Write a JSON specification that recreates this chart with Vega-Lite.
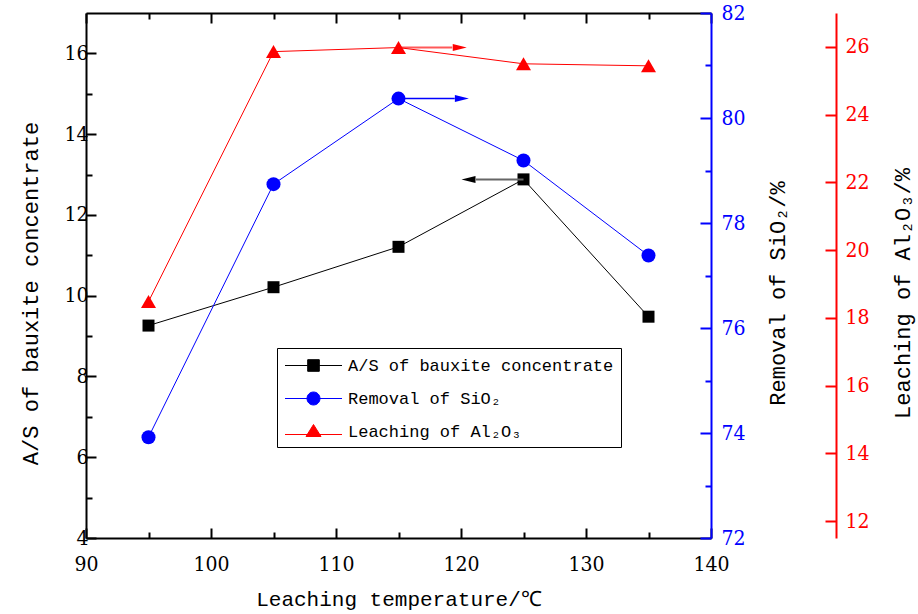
{
  "$schema": "https://vega.github.io/schema/vega-lite/v6.json",
  "width": 625,
  "height": 525,
  "autosize": {"type": "none"},
  "padding": {"left": 86, "top": 13, "right": 207, "bottom": 76},
  "background": "white",
  "datasets": {
    "as": [
      {"t": 95, "v": 9.26},
      {"t": 105, "v": 10.21},
      {"t": 115, "v": 11.21},
      {"t": 125, "v": 12.88},
      {"t": 135, "v": 9.48}
    ],
    "sio2": [
      {"t": 95, "v": 73.92},
      {"t": 105, "v": 78.74},
      {"t": 115, "v": 80.37},
      {"t": 125, "v": 79.19},
      {"t": 135, "v": 77.38}
    ],
    "al2o3": [
      {"t": 95, "v": 18.48},
      {"t": 105, "v": 25.86},
      {"t": 115, "v": 25.98},
      {"t": 125, "v": 25.5},
      {"t": 135, "v": 25.44}
    ],
    "arrows": [
      {"series": "as", "t": 125, "t2": 121.2, "th": 120.6, "v": 12.88},
      {"series": "sio2", "t": 115, "t2": 119.5, "th": 120.07, "v": 80.37},
      {"series": "al2o3", "t": 115, "t2": 119.3, "th": 119.9, "v": 25.98}
    ],
    "legendrows": [
      {"series": "A/S of bauxite concentrate"},
      {"series": "Removal of SiO₂"},
      {"series": "Leaching of Al₂O₃"}
    ]
  },
  "layer": [
    {
      "data": {"name": "as"},
      "layer": [
        {
          "mark": {"type": "line", "color": "black", "strokeWidth": 1},
          "encoding": {
            "x": {
              "field": "t", "type": "quantitative",
              "scale": {"domain": [90, 140], "nice": false, "zero": false},
              "axis": {
                "orient": "bottom",
                "title": "Leaching temperature/℃",
                "values": [90, 95, 100, 105, 110, 115, 120, 125, 130, 135, 140],
                "labelExpr": "datum.value % 10 === 0 ? datum.label : ''",
                "tickSize": {"condition": {"test": "datum.value % 10 === 0", "value": -10}, "value": -6},
                "labelPadding": 25,
                "titlePadding": 10,
                "titleFontSize": 21
              }
            },
            "y": {
              "field": "v", "type": "quantitative",
              "scale": {"domain": [4, 17], "nice": false, "zero": false},
              "axis": {
                "orient": "left",
                "title": "A/S of bauxite concentrate",
                "values": [4, 5, 6, 7, 8, 9, 10, 11, 12, 13, 14, 15, 16],
                "labelExpr": "datum.value % 2 === 0 ? datum.label : ''",
                "tickSize": {"condition": {"test": "datum.value % 2 === 0", "value": -10}, "value": -6},
                "labelPadding": 8,
                "titleX": -56,
                "titleY": 280,
                "titleAngle": 270,
                "titleAlign": "center",
                "titleBaseline": "middle"
              }
            }
          }
        },
        {
          "mark": {"type": "point", "shape": "square", "filled": true, "color": "black", "size": 144, "opacity": 1},
          "encoding": {
            "x": {"field": "t", "type": "quantitative"},
            "y": {"field": "v", "type": "quantitative"}
          }
        },
        {
          "data": {"name": "arrows"},
          "transform": [{"filter": "datum.series === 'as'"}],
          "mark": {"type": "rule", "color": "#666666", "strokeWidth": 2},
          "encoding": {
            "x": {"field": "t", "type": "quantitative"},
            "x2": {"field": "t2"},
            "y": {"field": "v", "type": "quantitative"}
          }
        },
        {
          "data": {"name": "arrows"},
          "transform": [{"filter": "datum.series === 'as'"}],
          "mark": {"type": "point", "shape": "M1,-0.5L-1,0L1,0.5Z", "filled": true, "color": "black", "size": 196, "opacity": 1},
          "encoding": {
            "x": {"field": "th", "type": "quantitative"},
            "y": {"field": "v", "type": "quantitative"}
          }
        },
        {
          "data": {"name": "legendrows"},
          "transform": [{"filter": "false"}],
          "mark": {"type": "point", "filled": true, "size": 400, "strokeWidth": 1, "opacity": 1},
          "encoding": {
            "fill": {
              "field": "series", "type": "nominal", "title": null,
              "scale": {"domain": ["A/S of bauxite concentrate", "Removal of SiO₂", "Leaching of Al₂O₃"], "range": ["black", "blue", "red"]}
            },
            "stroke": {
              "field": "series", "type": "nominal", "title": null,
              "scale": {"domain": ["A/S of bauxite concentrate", "Removal of SiO₂", "Leaching of Al₂O₃"], "range": ["black", "blue", "red"]}
            },
            "shape": {
              "field": "series", "type": "nominal", "title": null,
              "scale": {
                "domain": ["A/S of bauxite concentrate", "Removal of SiO₂", "Leaching of Al₂O₃"],
                "range": [
                  "M-2.85,0H-0.58M0.58,0H2.85M-0.58,-0.58H0.58V0.58H-0.58Z",
                  "M-2.85,0H2.85M-0.65,0A0.65,0.65,0,1,1,0.65,0A0.65,0.65,0,1,1,-0.65,0Z",
                  "M-2.85,0.3H2.85M0,-0.7L0.75,0.5H-0.75Z"
                ]
              }
            }
          }
        }
      ]
    },
    {
      "data": {"name": "sio2"},
      "layer": [
        {
          "mark": {"type": "line", "color": "blue", "strokeWidth": 1},
          "encoding": {
            "x": {
              "field": "t", "type": "quantitative",
              "axis": {
                "orient": "top",
                "title": null,
                "labels": false,
                "values": [90, 95, 100, 105, 110, 115, 120, 125, 130, 135, 140],
                "tickSize": {"condition": {"test": "datum.value % 10 === 0", "value": -10}, "value": -6}
              }
            },
            "y": {
              "field": "v", "type": "quantitative",
              "scale": {"domain": [72, 82], "nice": false, "zero": false},
              "axis": {
                "orient": "right",
                "title": "Removal of SiO₂/%",
                "values": [72, 73, 74, 75, 76, 77, 78, 79, 80, 81, 82],
                "labelExpr": "datum.value % 2 === 0 ? datum.label : ''",
                "tickSize": {"condition": {"test": "datum.value % 2 === 0", "value": -11}, "value": -6},
                "domainColor": "blue",
                "tickColor": "blue",
                "labelColor": "blue",
                "labelPadding": 21,
                "titleX": 66,
                "titleY": 280,
                "titleAngle": 270,
                "titleAlign": "center",
                "titleBaseline": "middle"
              }
            }
          }
        },
        {
          "mark": {"type": "point", "shape": "circle", "filled": true, "color": "blue", "size": 196, "opacity": 1},
          "encoding": {
            "x": {"field": "t", "type": "quantitative"},
            "y": {"field": "v", "type": "quantitative"}
          }
        },
        {
          "data": {"name": "arrows"},
          "transform": [{"filter": "datum.series === 'sio2'"}],
          "mark": {"type": "rule", "color": "blue", "strokeWidth": 1.5},
          "encoding": {
            "x": {"field": "t", "type": "quantitative"},
            "x2": {"field": "t2"},
            "y": {"field": "v", "type": "quantitative"}
          }
        },
        {
          "data": {"name": "arrows"},
          "transform": [{"filter": "datum.series === 'sio2'"}],
          "mark": {"type": "point", "shape": "M-1,-0.5L1,0L-1,0.5Z", "filled": true, "color": "blue", "size": 196, "opacity": 1},
          "encoding": {
            "x": {"field": "th", "type": "quantitative"},
            "y": {"field": "v", "type": "quantitative"}
          }
        }
      ]
    },
    {
      "data": {"name": "al2o3"},
      "layer": [
        {
          "mark": {"type": "line", "color": "red", "strokeWidth": 1},
          "encoding": {
            "x": {"field": "t", "type": "quantitative", "axis": null},
            "y": {
              "field": "v", "type": "quantitative",
              "scale": {"domain": [11.5, 27], "nice": false, "zero": false},
              "axis": {
                "orient": "right",
                "offset": 125,
                "title": "Leaching of Al₂O₃/%",
                "values": [12, 13, 14, 15, 16, 17, 18, 19, 20, 21, 22, 23, 24, 25, 26],
                "labelExpr": "datum.value % 2 === 0 ? datum.label : ''",
                "tickSize": {"condition": {"test": "datum.value % 2 === 0", "value": -11}, "value": -6},
                "domainColor": "red",
                "tickColor": "red",
                "labelColor": "red",
                "labelPadding": 20,
                "titleX": 66,
                "titleY": 280,
                "titleAngle": 270,
                "titleAlign": "center",
                "titleBaseline": "middle"
              }
            }
          }
        },
        {
          "mark": {"type": "point", "shape": "triangle-up", "filled": true, "color": "red", "size": 225, "opacity": 1},
          "encoding": {
            "x": {"field": "t", "type": "quantitative"},
            "y": {"field": "v", "type": "quantitative"}
          }
        },
        {
          "data": {"name": "arrows"},
          "transform": [{"filter": "datum.series === 'al2o3'"}],
          "mark": {"type": "rule", "color": "red", "strokeWidth": 2, "opacity": 0.65},
          "encoding": {
            "x": {"field": "t", "type": "quantitative"},
            "x2": {"field": "t2"},
            "y": {"field": "v", "type": "quantitative"}
          }
        },
        {
          "data": {"name": "arrows"},
          "transform": [{"filter": "datum.series === 'al2o3'"}],
          "mark": {"type": "point", "shape": "M-1,-0.5L1,0L-1,0.5Z", "filled": true, "color": "red", "size": 196, "opacity": 1},
          "encoding": {
            "x": {"field": "th", "type": "quantitative"},
            "y": {"field": "v", "type": "quantitative"}
          }
        }
      ]
    }
  ],
  "resolve": {
    "scale": {"y": "independent"},
    "axis": {"x": "independent", "y": "independent"}
  },
  "config": {
    "view": {"stroke": null},
    "axis": {
      "grid": false,
      "labelFont": "DejaVu Serif Condensed, DejaVu Serif",
      "labelFontSize": 21,
      "labelColor": "black",
      "labelFlush": false,
      "labelOverlap": false,
      "titleFont": "Liberation Mono, DejaVu Sans Mono",
      "titleFontSize": 22,
      "titleFontWeight": "normal",
      "titleColor": "black",
      "tickWidth": 2,
      "tickColor": "black",
      "domainWidth": 2,
      "domainColor": "black"
    },
    "legend": {
      "orient": "none",
      "legendX": 191,
      "legendY": 335,
      "strokeColor": "black",
      "fillColor": "white",
      "padding": 7,
      "symbolOffset": 19,
      "labelOffset": 24,
      "labelFont": "Liberation Mono, DejaVu Sans Mono",
      "labelFontSize": 17,
      "labelColor": "black",
      "labelLimit": 500,
      "rowPadding": 14,
      "symbolSize": 400,
      "symbolStrokeWidth": 1
    }
  }
}
